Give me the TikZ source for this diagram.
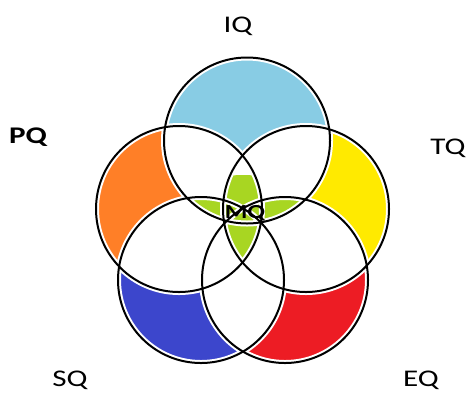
\documentclass[tikz,border=0pt]{standalone}
\usepackage{fontspec}
\setmainfont{Carlito}
\definecolor{iqblue}{RGB}{136,204,228}
\definecolor{pqorange}{RGB}{255,127,39}
\definecolor{tqyellow}{RGB}{255,234,0}
\definecolor{sqblue}{RGB}{60,70,204}
\definecolor{eqred}{RGB}{237,28,36}
\definecolor{mqgreen}{RGB}{168,214,34}

\begin{document}
\begin{tikzpicture}[
        x=1bp, y=-1bp,
        every node/.style={font=\fontsize{24pt}{28pt}\selectfont},
        setlabel/.style={
            inner sep=0pt,
            anchor=base,
            xscale=1.3
        },
        ring/.style={
            draw=black,
            line width=2bp
        },
        gap/.style={
            draw=white,
            line width=6bp
        }
    ]

    \useasboundingbox (0,0) rectangle (470,392);

    \def\rad{83bp}
    \coordinate (ciq) at (247,140.5);
    \coordinate (cpq) at (179,209);
    \coordinate (ctq) at (306,209);
    \coordinate (csq) at (201,280);
    \coordinate (ceq) at (285,280);
    \coordinate (cmq) at (243,220);

    % coloured circles, overlaps cleared to white
    \fill[iqblue]   (ciq) circle[radius=\rad];
    \fill[pqorange] (cpq) circle[radius=\rad];
    \fill[tqyellow] (ctq) circle[radius=\rad];
    \fill[sqblue]   (csq) circle[radius=\rad];
    \fill[eqred]    (ceq) circle[radius=\rad];
    \foreach \a/\b in {iq/pq, iq/tq, iq/sq, iq/eq, pq/tq,
                       pq/sq, pq/eq, tq/sq, tq/eq, sq/eq} {
        \begin{scope}
            \clip (c\a) circle[radius=\rad];
            \fill[white] (c\b) circle[radius=\rad];
        \end{scope}
    }

    % centre star
    \begin{scope}
        \clip (cmq) ellipse[x radius=70bp, y radius=45bp];
        \begin{scope}
            \clip (cpq) circle[radius=\rad];
            \fill[mqgreen] (ctq) circle[radius=\rad];
        \end{scope}
        \begin{scope}
            \clip (ciq) circle[radius=\rad];
            \fill[mqgreen] (csq) circle[radius=\rad];
            \fill[mqgreen] (ceq) circle[radius=\rad];
        \end{scope}
    \end{scope}

    \foreach \c in {iq,pq,tq,sq,eq}
        \draw[gap] (c\c) circle[radius=\rad];
    \foreach \c in {iq,pq,tq,sq,eq}
        \draw[ring] (c\c) circle[radius=\rad];

    \node[setlabel] (iq) at (238,32) {IQ};
    \node[setlabel, font=\fontsize{24pt}{28pt}\selectfont\bfseries] (pq) at (28,143) {PQ};
    \node[setlabel] (tq) at (448,154) {TQ};
    \node[setlabel] (sq) at (70,386) {SQ};
    \node[setlabel] (eq) at (421,386) {EQ};
    \node[setlabel, font=\fontsize{20pt}{24pt}\selectfont\bfseries] (mq) at (245,218) {MQ};

\end{tikzpicture}
\end{document}
